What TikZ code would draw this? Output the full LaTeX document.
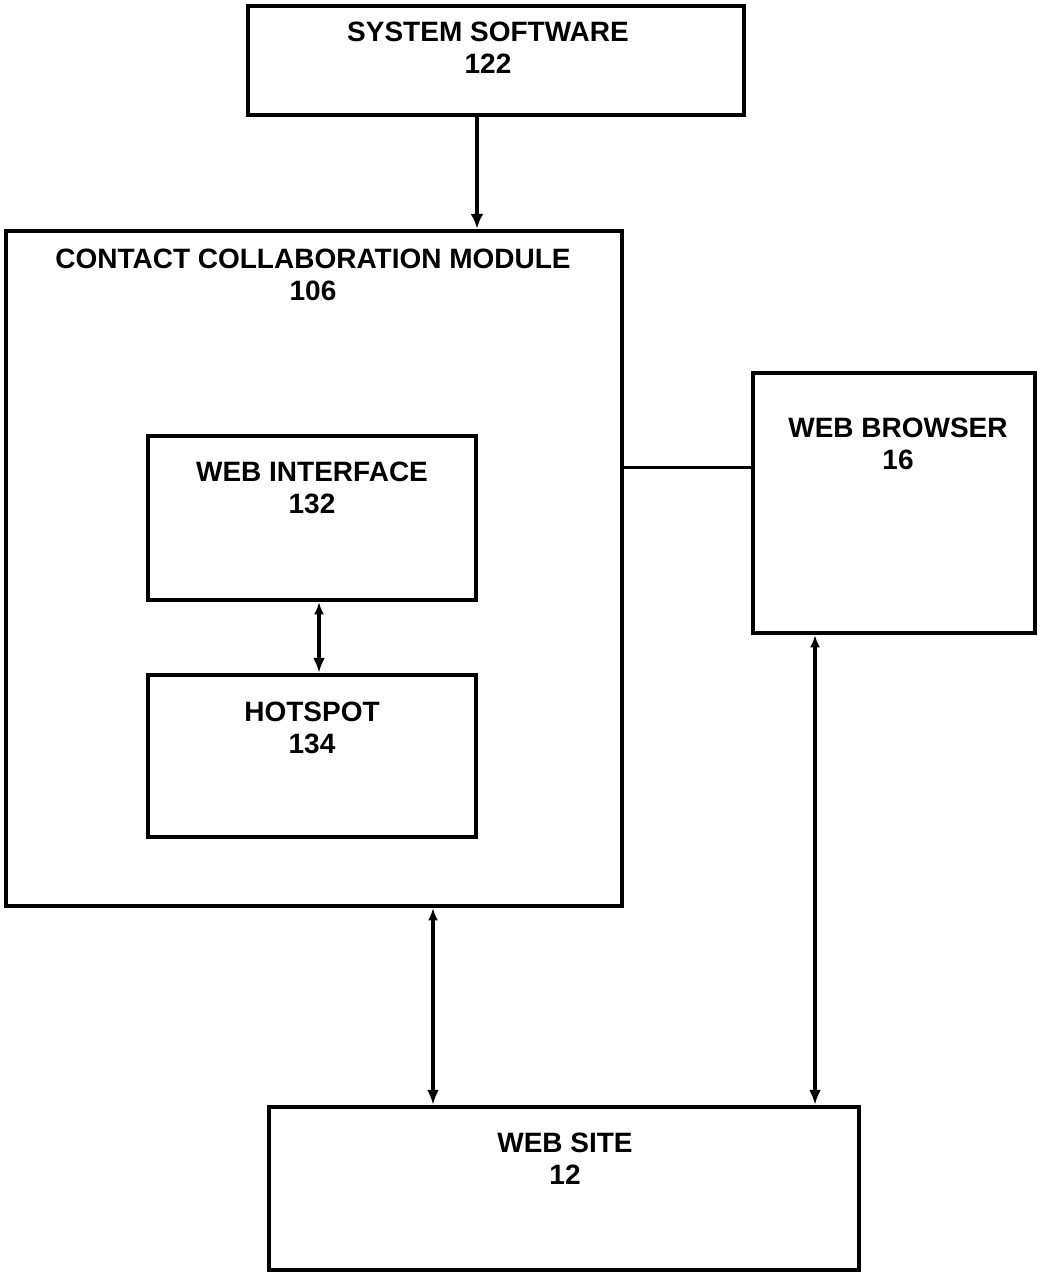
\documentclass[tikz,border=0pt]{standalone}
\usepackage{fontspec}
\setmainfont{Liberation Sans}
\usetikzlibrary{arrows.meta}
\begin{document}
\begin{tikzpicture}[x=1pt,y=-1pt,
  box/.style={draw,line width=4.5pt,rectangle,inner sep=0pt},
  lbl/.style={anchor=north,inner sep=0pt,align=center,font=\fontsize{28pt}{32pt}\selectfont\bfseries},
  conn/.style={line width=3pt},
  arr/.style={line width=3.2pt,-{Latex[length=15pt,width=13pt]}},
  darr/.style={line width=3.2pt,{Latex[length=12pt,width=10pt]}-{Latex[length=15pt,width=12pt]}}]
\useasboundingbox[fill=white] (0,0) rectangle (1048,1275);
% boxes
\node[box,minimum width=496pt,minimum height=109pt] (sys) at (496,60.5) {};
\node[box,minimum width=616pt,minimum height=675pt] (ccm) at (314,568.5) {};
\node[box,minimum width=328pt,minimum height=164pt] (wi) at (312,518) {};
\node[box,minimum width=328pt,minimum height=162pt] (hs) at (312,756) {};
\node[box,minimum width=282pt,minimum height=260pt] (wb) at (894,503) {};
\node[box,minimum width=590pt,minimum height=163pt] (ws) at (564,1188.5) {};
% labels
\node[lbl] (sysl) at (488,22) {SYSTEM SOFTWARE\\122};
\node[lbl] (ccml) at (313,249) {CONTACT COLLABORATION MODULE\\106};
\node[lbl] (wil) at (312,462) {WEB INTERFACE\\132};
\node[lbl] (hsl) at (312,702) {HOTSPOT\\134};
\node[lbl] (wbl) at (898,418) {WEB BROWSER\\16};
\node[lbl] (wsl) at (565,1133) {WEB SITE\\12};
% connector positions
\coordinate (xa) at (477,0);
\coordinate (xb) at (319,0);
\coordinate (xc) at (433,0);
\coordinate (xd) at (815,0);
\coordinate (yl) at (0,467);
% connectors
\draw[arr] (sys.south -| xa) -- (ccm.north -| xa);
\draw[darr] (wi.south -| xb) -- (hs.north -| xb);
\draw[conn] (ccm.east |- yl) -- (wb.west |- yl);
\draw[darr] (ccm.south -| xc) -- (ws.north -| xc);
\draw[darr] (wb.south -| xd) -- (ws.north -| xd);
\end{tikzpicture}
\end{document}
